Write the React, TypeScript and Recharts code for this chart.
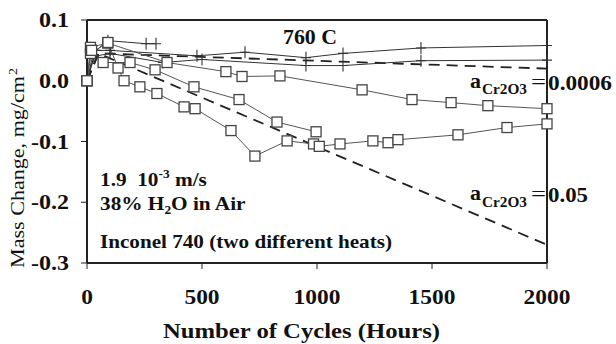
import React from 'react';
import { LineChart, Line, XAxis, YAxis, ReferenceLine } from 'recharts';

// Inconel 740, 760 C, 38% H2O in air — specific mass change vs. exposure cycles
const squareA_cycles = [0, 15, 90, 348, 604, 674, 839, 1196, 1413, 1583, 1743, 2000];
const squareA_mass = [0, 0.055, 0.062, 0.03, 0.015, 0.007, 0.008, -0.015, -0.031, -0.036, -0.041, -0.046];

const squareB_cycles = [0, 15, 91, 135, 161, 230, 304, 422, 470, 626, 730, 870, 985, 1010, 1100, 1243, 1309, 1352, 1613, 1826, 2000];
const squareB_mass = [0, 0.045, 0.063, 0.021, 0.0, -0.01, -0.021, -0.043, -0.046, -0.082, -0.124, -0.099, -0.104, -0.108, -0.104, -0.099, -0.102, -0.097, -0.089, -0.077, -0.071];

const squareC_cycles = [0, 20, 70, 187, 296, 465, 661, 826, 996];
const squareC_mass = [0, 0.05, 0.03, 0.03, 0.018, -0.01, -0.031, -0.068, -0.084];

const plusA_cycles = [0, 30, 100, 478, 687, 952, 1113, 1452, 2000];
const plusA_mass = [0, 0.05, 0.05, 0.041, 0.047, 0.038, 0.045, 0.054, 0.058];

const plusB_cycles = [0, 30, 100, 330, 500, 952, 1113, 1452, 2000];
const plusB_mass = [0, 0.04, 0.045, 0.03, 0.035, 0.025, 0.025, 0.033, 0.034];

const plusC_cycles = [0, 40, 91, 257, 300];
const plusC_mass = [0, 0.05, 0.066, 0.061, 0.061];

// paralinear model curves
const modelLow_cycles = [0, 50, 2000];
const modelLow_mass = [0, 0.045, 0.02];
const modelHigh_cycles = [0, 50, 2000];
const modelHigh_mass = [0, 0.045, -0.27];

const xTicks = [0, 500, 1000, 1500, 2000];
const yTicks = [-0.3, -0.2, -0.1, 0, 0.1];

const zip = (cs: number[], ms: number[]) => cs.map((c, i) => ({ c, m: ms[i] }));

const FONT = '"Liberation Serif", "Times New Roman", serif';
const INK = '#111';

const SquareDot = (props: any) => {
    const { cx, cy } = props;
    if (cx == null || cy == null) return null;
    return <rect x={cx - 5} y={cy - 5} width={10} height={10} fill="#fff" stroke="#444" strokeWidth={1.3} />;
};

const PlusDot = (props: any) => {
    const { cx, cy } = props;
    if (cx == null || cy == null) return null;
    return <path d={`M${cx - 5},${cy}h10M${cx},${cy - 6}v12`} stroke="#333" strokeWidth={1.1} fill="none" />;
};

const XTick = ({ x, y, payload }: any) => (
    <g transform={`translate(${x},${y + 33}) scale(1.17,1)`}>
        <text x={0} y={0} textAnchor="middle" fontFamily={FONT} fontWeight="bold" fontSize={20} fill={INK}>
            {payload.value}
        </text>
    </g>
);

const YTick = ({ x, y, payload }: any) => (
    <g transform={`translate(${x - 10},${y + 7}) scale(1.2,1)`}>
        <text x={0} y={0} textAnchor="end" fontFamily={FONT} fontWeight="bold" fontSize={20} fill={INK}>
            {Number(payload.value).toFixed(1)}
        </text>
    </g>
);

// stretched bold label at a baseline position
const T = ({ x, y, w, size = 20, bold = true, children }: any) => (
    <text x={x} y={y} textLength={w} lengthAdjust="spacingAndGlyphs" fontFamily={FONT}
        fontWeight={bold ? 'bold' : 'normal'} fontSize={size} fill={INK}>
        {children}
    </text>
);

// run of mixed text (sub/superscripts) widened as a whole
const Row = ({ x, y, sx = 1.12, children }: any) => (
    <g transform={`translate(${x},${y}) scale(${sx},1)`}>
        <text x={0} y={0} fontFamily={FONT} fontWeight="bold" fontSize={19} fill={INK} style={{ whiteSpace: 'pre' }}>
            {children}
        </text>
    </g>
);

export default function App() {
    const seriesStroke = '#333';
    return (
        <div style={{ position: 'absolute', left: 0, top: 0, width: 616, height: 344, background: '#fff' }}>
            <LineChart width={616} height={344} margin={{ top: 20, right: 69, bottom: 0, left: 0 }}>
                <XAxis dataKey="c" type="number" domain={[0, 2000]} ticks={xTicks} height={81}
                    axisLine={{ stroke: '#222', strokeWidth: 2 }} tickLine={{ stroke: '#222' }} tickSize={6}
                    tick={<XTick />} allowDuplicatedCategory={false} />
                <YAxis type="number" domain={[-0.3, 0.1]} ticks={yTicks} width={87}
                    axisLine={{ stroke: '#222', strokeWidth: 2 }} tickLine={{ stroke: '#222' }} tickSize={6}
                    tick={<YTick />} />
                <ReferenceLine y={0.1} stroke="#222" strokeWidth={2} />
                <ReferenceLine x={2000} stroke="#222" strokeWidth={2} />

                <Line data={zip(modelLow_cycles, modelLow_mass)} dataKey="m" type="linear" stroke="#222"
                    strokeWidth={1.8} strokeDasharray="11 7" dot={false} isAnimationActive={false} />
                <Line data={zip(modelHigh_cycles, modelHigh_mass)} dataKey="m" type="linear" stroke="#222"
                    strokeWidth={1.8} strokeDasharray="11 7" dot={false} isAnimationActive={false} />

                <Line data={zip(plusA_cycles, plusA_mass)} dataKey="m" type="linear" stroke={seriesStroke}
                    strokeWidth={1} dot={<PlusDot />} isAnimationActive={false} />
                <Line data={zip(plusB_cycles, plusB_mass)} dataKey="m" type="linear" stroke={seriesStroke}
                    strokeWidth={1} dot={<PlusDot />} isAnimationActive={false} />
                <Line data={zip(plusC_cycles, plusC_mass)} dataKey="m" type="linear" stroke={seriesStroke}
                    strokeWidth={1} dot={<PlusDot />} isAnimationActive={false} />

                <Line data={zip(squareA_cycles, squareA_mass)} dataKey="m" type="linear" stroke="#555"
                    strokeWidth={1} dot={<SquareDot />} isAnimationActive={false} />
                <Line data={zip(squareB_cycles, squareB_mass)} dataKey="m" type="linear" stroke="#555"
                    strokeWidth={1} dot={<SquareDot />} isAnimationActive={false} />
                <Line data={zip(squareC_cycles, squareC_mass)} dataKey="m" type="linear" stroke="#555"
                    strokeWidth={1} dot={<SquareDot />} isAnimationActive={false} />
            </LineChart>

            <svg width={616} height={344} style={{ position: 'absolute', left: 0, top: 0, pointerEvents: 'none' }}>
                <T x={283} y={44} w={54}>760 C</T>

                <Row x={100} y={186}>
                    1.9{'  '}10<tspan fontSize={12} dy={-8}>-3</tspan><tspan dy={8}> m/s</tspan>
                </Row>
                <Row x={100} y={210}>
                    38% H<tspan fontSize={12} dy={4}>2</tspan><tspan dy={-4}>O in Air</tspan>
                </Row>

                <T x={100} y={248} w={292} size={19}>Inconel 740 (two different heats)</T>

                <T x={470} y={88} w={11}>a</T>
                <T x={482} y={94} w={45} size={14}>Cr2O3</T>
                <T x={531} y={89} w={15} bold={false}>=</T>
                <T x={548} y={90} w={64}>0.0006</T>

                <T x={470} y={200} w={11}>a</T>
                <T x={482} y={207} w={45} size={14}>Cr2O3</T>
                <T x={531} y={201} w={15} bold={false}>=</T>
                <T x={548} y={202} w={40}>0.05</T>

                <T x={163} y={338} w={277}>Number of Cycles (Hours)</T>

                <g transform="translate(24,268) rotate(-90)">
                    <T x={0} y={0} w={192} size={18} bold={false}>Mass Change, mg/cm</T>
                    <T x={193} y={-7} w={7} size={12} bold={false}>2</T>
                </g>
            </svg>
        </div>
    );
}
